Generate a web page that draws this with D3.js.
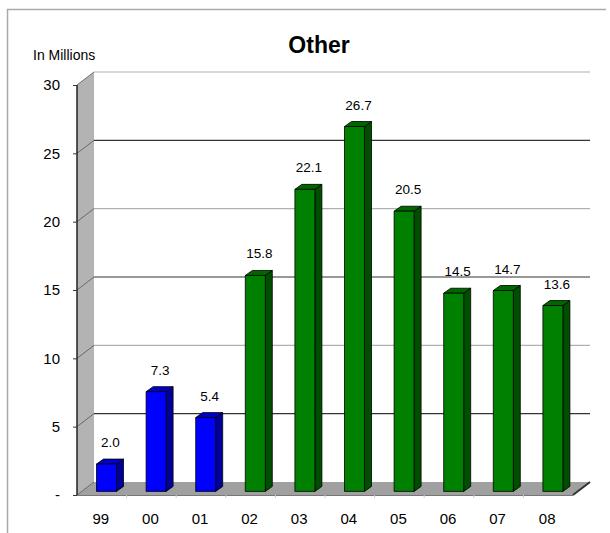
<!DOCTYPE html>
<html><head><meta charset="utf-8">
<script src="https://cdn.jsdelivr.net/npm/d3@7"></script>
<style>body{margin:0;background:#fff}svg{display:block;font-family:"Liberation Sans",Arial,sans-serif}</style>
</head><body>
<svg id="c" width="610" height="533"></svg>
<script>
const categories = ["99","00","01","02","03","04","05","06","07","08"];
const values = [2.0, 7.3, 5.4, 15.8, 22.1, 26.7, 20.5, 14.5, 14.7, 13.6];
const seriesGroup = ["blue","blue","blue","green","green","green","green","green","green","green"];
const tickValues = [0,5,10,15,20,25,30];
const tickLabels = ["-","5","10","15","20","25","30"];
const title = "Other";
const unitLabel = "In Millions";

const svg = d3.select("#c");
const W = 610, H = 533;
// frame
svg.append("line").attr("x1",7).attr("y1",9.5).attr("x2",606).attr("y2",9.5).attr("stroke","#aaa").attr("stroke-width",1.5);
svg.append("line").attr("x1",7.5).attr("y1",9).attr("x2",7.5).attr("y2",H).attr("stroke","#aaa").attr("stroke-width",1.5);

const x0 = 77, x1 = 573;
const dX = 17, dY = -13; // depth
const y = d3.scaleLinear().domain([0,30]).range([495,85]);
const x = d3.scaleBand().domain(categories).range([x0,x1]).paddingInner(0).paddingOuter(0);

// left wall
svg.append("polygon")
  .attr("points",[[x0,y(0)],[x0,y(30)],[x0+dX,y(30)+dY],[x0+dX,y(0)+dY]].map(p=>p.join(",")).join(" "))
  .attr("fill","#b3b3b3");
// floor
svg.append("polygon")
  .attr("points",[[x0,y(0)],[x1,y(0)],[x1+dX,y(0)+dY],[x0+dX,y(0)+dY]].map(p=>p.join(",")).join(" "))
  .attr("fill","#a0a0a0");

// gridlines on back wall + wall diagonals
tickValues.forEach((t,i)=>{
  if(t>0){
    svg.append("line").attr("x1",x0+dX).attr("x2",x1+dX).attr("y1",y(t)+dY).attr("y2",y(t)+dY)
      .attr("stroke", (t%10===0)?"#b0b0b0":"#333").attr("stroke-width",1.1);
  }
  svg.append("line").attr("x1",x0).attr("y1",y(t)).attr("x2",x0+dX).attr("y2",y(t)+dY)
    .attr("stroke","#555").attr("stroke-width",0.8);
});
// front axis line
svg.append("line").attr("x1",x0).attr("x2",x0).attr("y1",y(30)).attr("y2",y(0)+1).attr("stroke","#222").attr("stroke-width",1.5);
// floor front edge
svg.append("line").attr("x1",x0).attr("x2",x1).attr("y1",y(0)+0.5).attr("y2",y(0)+0.5).attr("stroke","#777").attr("stroke-width",1.2);
// floor right edge
svg.append("line").attr("x1",x1).attr("y1",y(0)).attr("x2",x1+dX).attr("y2",y(0)+dY).attr("stroke","#333").attr("stroke-width",2);

// y axis via d3
const yAxis = d3.axisLeft(y).tickValues(tickValues).tickFormat((d,i)=>tickLabels[i]).tickSize(4).tickPadding(13);
const gy = svg.append("g").attr("transform",`translate(${x0},0)`).call(yAxis);
gy.select(".domain").remove();
gy.selectAll(".tick line").attr("stroke","#333");
gy.selectAll(".tick text").attr("font-size",15).attr("fill","#000").attr("font-family","Liberation Sans, Arial, sans-serif");

// x axis
const xAxis = d3.axisBottom(x).tickSize(0).tickPadding(18);
const gx = svg.append("g").attr("transform",`translate(-1,${y(0)})`).call(xAxis);
gx.select(".domain").remove();
gx.selectAll(".tick text").attr("font-size",15).attr("fill","#000").attr("font-family","Liberation Sans, Arial, sans-serif");
// floor ticks at boundaries
categories.slice(1).forEach(c=>{
  svg.append("line").attr("x1",x(c)).attr("x2",x(c)).attr("y1",y(0)).attr("y2",y(0)+3).attr("stroke","#ccc");
});

// bars
const bw = 20, bdx = 7, bdy = -5, off = 4.7, offY = -3.6;
const colors = {
  blue:{front:"#0000ff", side:"#00009a", top:"#0000cc"},
  green:{front:"#008000", side:"#004f00", top:"#006600"}
};
const bars = svg.append("g");
categories.forEach((c,i)=>{
  const cx = x(c) + x.bandwidth()/2 + off;
  const left = cx - bw/2, right = cx + bw/2;
  const base = y(0) + offY;
  const top = base - (y(0) - y(values[i]));
  const col = colors[seriesGroup[i]];
  const g = bars.append("g").attr("stroke","#000").attr("stroke-width",0.8).attr("stroke-linejoin","round");
  g.append("polygon").attr("points",[[right,base],[right,top],[right+bdx,top+bdy],[right+bdx,base+bdy]].map(p=>p.join(",")).join(" ")).attr("fill",col.side);
  g.append("polygon").attr("points",[[left,top],[right,top],[right+bdx,top+bdy],[left+bdx,top+bdy]].map(p=>p.join(",")).join(" ")).attr("fill",col.top);
  g.append("rect").attr("x",left).attr("y",top).attr("width",bw).attr("height",base-top).attr("fill",col.front);
  svg.append("text").attr("x",cx+4).attr("y",top-17).attr("text-anchor","middle")
    .attr("font-size",13.5).attr("fill","#000").text(values[i].toFixed(1));
});

// titles
svg.append("text").attr("x",319).attr("y",53).attr("text-anchor","middle").attr("font-size",23).attr("font-weight","bold").text(title);
svg.append("text").attr("x",33).attr("y",60).attr("font-size",14).text(unitLabel);
</script>
</body></html>
